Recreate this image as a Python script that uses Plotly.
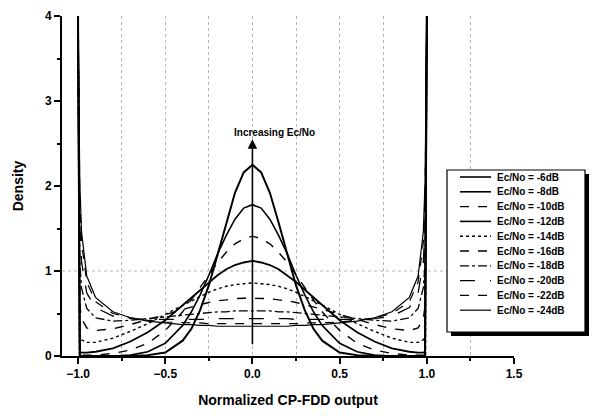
import plotly.graph_objects as go

# Normalized CP-FDD output (x) sample positions
x_vals = [-1.0, -0.99, -0.98, -0.95, -0.9, -0.8, -0.7, -0.6, -0.5, -0.4, -0.35, -0.3, -0.25, -0.2, -0.15, -0.1, -0.05,
          0.0, 0.05, 0.1, 0.15, 0.2, 0.25, 0.3, 0.35, 0.4, 0.5, 0.6, 0.7, 0.8, 0.9, 0.95, 0.98, 0.99, 1.0]

# Density values, one list per Ec/No
density_m6 = [4.0, 0.0, 0.0, 0.0, 0.0, 0.0, 0.0, 0.01, 0.04, 0.18, 0.32, 0.54, 0.83, 1.19, 1.57, 1.92, 2.16,
              2.25, 2.16, 1.92, 1.57, 1.19, 0.83, 0.54, 0.32, 0.18, 0.04, 0.01, 0.0, 0.0, 0.0, 0.0, 0.0, 0.0, 4.0]
density_m8 = [4.0, 0.0, 0.0, 0.0, 0.0, 0.0, 0.01, 0.05, 0.15, 0.36, 0.52, 0.72, 0.95, 1.20, 1.42, 1.61, 1.74,
              1.78, 1.74, 1.61, 1.42, 1.20, 0.95, 0.72, 0.52, 0.36, 0.15, 0.05, 0.01, 0.0, 0.0, 0.0, 0.0, 0.0, 4.0]
density_m10 = [4.0, 0.01, 0.01, 0.01, 0.01, 0.03, 0.07, 0.15, 0.30, 0.52, 0.66, 0.80, 0.95, 1.10, 1.22, 1.32, 1.38,
               1.41, 1.38, 1.32, 1.22, 1.10, 0.95, 0.80, 0.66, 0.52, 0.30, 0.15, 0.07, 0.03, 0.01, 0.01, 0.01, 0.01, 4.0]
density_m12 = [4.0, 0.05, 0.04, 0.04, 0.05, 0.09, 0.17, 0.28, 0.42, 0.60, 0.69, 0.78, 0.87, 0.95, 1.02, 1.07, 1.10,
               1.12, 1.10, 1.07, 1.02, 0.95, 0.87, 0.78, 0.69, 0.60, 0.42, 0.28, 0.17, 0.09, 0.05, 0.04, 0.04, 0.05, 4.0]
density_m14 = [4.0, 0.25, 0.19, 0.16, 0.16, 0.21, 0.29, 0.38, 0.49, 0.60, 0.65, 0.70, 0.75, 0.79, 0.82, 0.84, 0.85,
               0.86, 0.85, 0.84, 0.82, 0.79, 0.75, 0.70, 0.65, 0.60, 0.49, 0.38, 0.29, 0.21, 0.16, 0.16, 0.19, 0.25, 4.0]
density_m16 = [4.0, 0.59, 0.44, 0.33, 0.30, 0.32, 0.37, 0.43, 0.49, 0.55, 0.58, 0.605, 0.63, 0.65, 0.66, 0.675, 0.68,
               0.68, 0.68, 0.675, 0.66, 0.65, 0.63, 0.605, 0.58, 0.55, 0.49, 0.43, 0.37, 0.32, 0.30, 0.33, 0.44, 0.59, 4.0]
density_m18 = [4.0, 1.10, 0.80, 0.56, 0.45, 0.41, 0.42, 0.44, 0.46, 0.48, 0.49, 0.50, 0.51, 0.52, 0.52, 0.53, 0.53,
               0.53, 0.53, 0.53, 0.52, 0.52, 0.51, 0.50, 0.49, 0.48, 0.46, 0.44, 0.42, 0.41, 0.45, 0.56, 0.80, 1.10, 4.0]
density_m20 = [4.0, 1.54, 1.11, 0.74, 0.57, 0.47, 0.44, 0.43, 0.43, 0.43, 0.43, 0.43, 0.43, 0.44, 0.44, 0.44, 0.44,
               0.44, 0.44, 0.44, 0.44, 0.44, 0.43, 0.43, 0.43, 0.43, 0.43, 0.43, 0.44, 0.47, 0.57, 0.74, 1.11, 1.54, 4.0]
density_m22 = [4.0, 1.86, 1.33, 0.87, 0.64, 0.50, 0.45, 0.42, 0.40, 0.39, 0.39, 0.39, 0.38, 0.38, 0.38, 0.38, 0.38,
               0.38, 0.38, 0.38, 0.38, 0.38, 0.38, 0.39, 0.39, 0.39, 0.40, 0.42, 0.45, 0.50, 0.64, 0.87, 1.33, 1.86, 4.0]
density_m24 = [4.0, 2.05, 1.46, 0.94, 0.69, 0.52, 0.45, 0.41, 0.39, 0.37, 0.37, 0.36, 0.36, 0.35, 0.35, 0.35, 0.35,
               0.35, 0.35, 0.35, 0.35, 0.35, 0.36, 0.36, 0.37, 0.37, 0.39, 0.41, 0.45, 0.52, 0.69, 0.94, 1.46, 2.05, 4.0]

series_labels = ["Ec/No = -6dB", "Ec/No = -8dB", "Ec/No = -10dB", "Ec/No = -12dB", "Ec/No = -14dB",
                 "Ec/No = -16dB", "Ec/No = -18dB", "Ec/No = -20dB", "Ec/No = -22dB", "Ec/No = -24dB"]
series_values = [density_m6, density_m8, density_m10, density_m12, density_m14,
                 density_m16, density_m18, density_m20, density_m22, density_m24]
line_dashes = ["solid", "solid", "dash", "solid", "dot", "dash", "dashdot", "longdash", "dash", "solid"]
line_widths = [2.0, 1.6, 1.4, 1.8, 1.4, 1.4, 1.3, 1.3, 1.2, 1.2]

FONT = "Arial, 'Liberation Sans', sans-serif"
OFF = 8                      # page body margin of the html document
W, H = 599 - OFF, 416 - OFF
ML, MR, MT, MB = 62 - OFF, 85, 8, 60
PW, PH = W - ML - MR, H - MT - MB


def px_x(p):
    """page pixel x -> paper fraction"""
    return (p - OFF - ML) / PW


def px_y(p):
    """page pixel y -> paper fraction"""
    return (H - MB - (p - OFF)) / PH


fig = go.Figure()
for lbl, ys, dsh, w in zip(series_labels, series_values, line_dashes, line_widths):
    fig.add_trace(go.Scatter(x=x_vals, y=ys, mode="lines", name=lbl, showlegend=False,
                             line=dict(color="black", width=w, dash=dsh)))

fig.update_layout(
    width=W, height=H,
    margin=dict(l=ML, r=MR, t=MT, b=MB, autoexpand=False),
    paper_bgcolor="white", plot_bgcolor="white",
    font=dict(family=FONT, color="black"),
    showlegend=False,
    xaxis=dict(range=[-1.092, 1.5], tick0=0, dtick=0.5, tickformat=".1f",
               ticks="outside", ticklen=6, tickwidth=1.5, tickcolor="black",
               showline=True, linecolor="black", linewidth=2,
               showgrid=True, gridcolor="#b4b4b4", griddash="dot", gridwidth=1,
               zeroline=False, ticklabeloverflow="allow",
               minor=dict(dtick=0.25, tick0=0, ticks="outside", ticklen=3, tickcolor="black",
                          showgrid=True, gridcolor="#b4b4b4", griddash="dot"),
               tickfont=dict(size=12, weight="bold"),
               title=dict(text="Normalized CP-FDD output", font=dict(size=14, weight="bold"), standoff=15)),
    yaxis=dict(range=[0, 4], dtick=1, ticks="outside", ticklen=6, tickwidth=1.5, tickcolor="black",
               showline=True, linecolor="black", linewidth=2,
               showgrid=False, zeroline=False, ticklabeloverflow="allow",
               minor=dict(dtick=0.5, ticks="outside", ticklen=3, tickcolor="black"),
               tickfont=dict(size=12, weight="bold"),
               title=dict(text="Density", font=dict(size=14, weight="bold"), standoff=18)),
)

# dotted reference line at density = 1
fig.add_hline(y=1, line=dict(color="#b4b4b4", width=1, dash="dot"), layer="below")

# arrow + label
fig.add_annotation(x=0, y=2.55, ax=0, ay=0.12, xref="x", yref="y", axref="x", ayref="y",
                   text="", showarrow=True, arrowhead=2, arrowsize=1.2, arrowwidth=1.6, arrowcolor="black")
fig.add_annotation(x=-0.12, y=2.63, xref="x", yref="y", xanchor="left", yanchor="middle",
                   text="Increasing Ec/No", showarrow=False,
                   font=dict(family=FONT, size=10, weight="bold", color="black"))

# legend box with drop shadow (drawn manually to match the compact spacing)
box_l, box_r, box_t, box_b = 447, 585, 170, 332
shadow = 4
fig.add_shape(type="rect", xref="paper", yref="paper",
              x0=px_x(box_l + shadow), x1=px_x(box_r + shadow),
              y0=px_y(box_b + shadow), y1=px_y(box_t + shadow),
              fillcolor="black", line=dict(width=0), layer="above")
fig.add_shape(type="rect", xref="paper", yref="paper",
              x0=px_x(box_l), x1=px_x(box_r), y0=px_y(box_b), y1=px_y(box_t),
              fillcolor="white", line=dict(color="black", width=1.2), layer="above")
row0, row_step = 177, 14.8
for i, (lbl, dsh, w) in enumerate(zip(series_labels, line_dashes, line_widths)):
    ry = row0 + i * row_step
    fig.add_shape(type="line", xref="paper", yref="paper",
                  x0=px_x(460), x1=px_x(491), y0=px_y(ry), y1=px_y(ry),
                  line=dict(color="black", width=min(w, 1.6), dash=dsh), layer="above")
    fig.add_annotation(x=px_x(495), y=px_y(ry), xref="paper", yref="paper",
                       xanchor="left", yanchor="middle", text=lbl, showarrow=False,
                       font=dict(family=FONT, size=10, weight="bold", color="black"))

fig.write_html("out.html")
